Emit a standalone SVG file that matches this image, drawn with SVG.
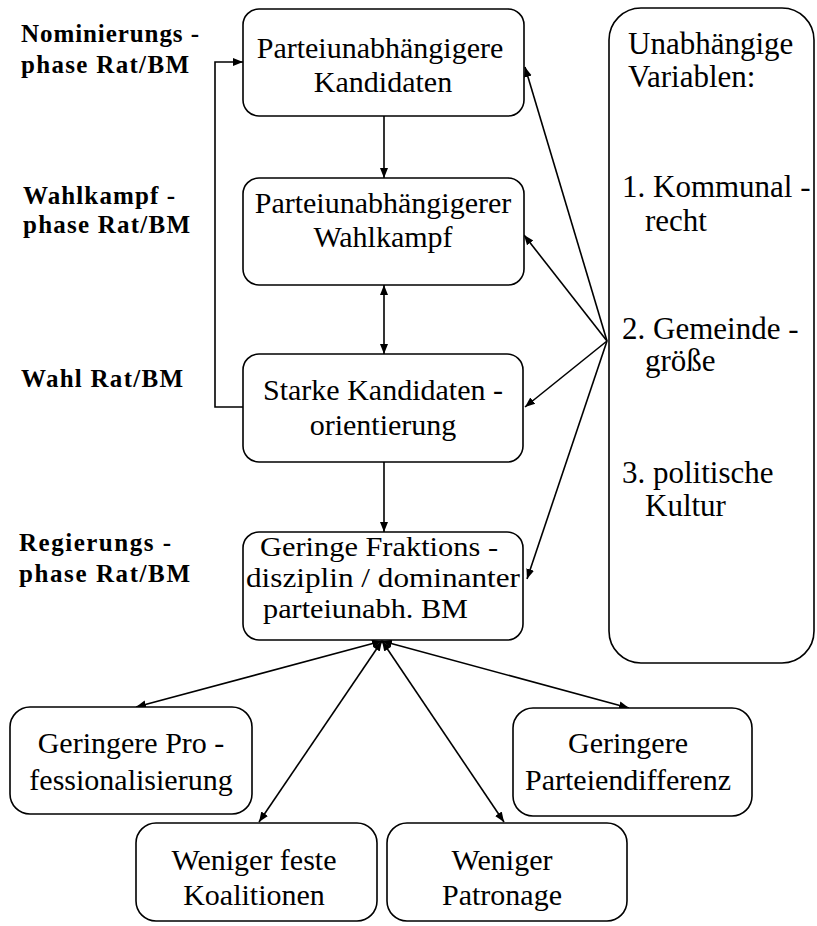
<svg xmlns="http://www.w3.org/2000/svg" width="817" height="926" viewBox="0 0 817 926">
<style>
.box{fill:#fff;stroke:#000;stroke-width:1.6}
.t{font-family:"Liberation Serif","Times New Roman",serif;font-size:30px;fill:#000;text-anchor:middle}
.t4{font-family:"Liberation Serif","Times New Roman",serif;font-size:27px;fill:#000}
.tl{font-family:"Liberation Serif","Times New Roman",serif;font-size:31px;fill:#000}
.lab{font-family:"Liberation Serif","Times New Roman",serif;font-size:25px;font-weight:bold;fill:#000}
.c{fill:none;stroke:#000;stroke-width:1.6}
</style>
<defs>
<marker id="ah" viewBox="0 0 10 10" refX="10" refY="5" markerWidth="10" markerHeight="10" markerUnits="userSpaceOnUse" orient="auto-start-reverse">
<path d="M0,1 L10,5 L0,9 Z" fill="#000"/>
</marker>
</defs>
<rect width="817" height="926" fill="#fff"/>

<g id="labels">
<text class="lab" x="21" y="42" textLength="178" lengthAdjust="spacing">Nominierungs -</text>
<text class="lab" x="21" y="73" textLength="168" lengthAdjust="spacing">phase  Rat/BM</text>
<text class="lab" x="23" y="204" textLength="152" lengthAdjust="spacing">Wahlkampf -</text>
<text class="lab" x="23" y="233" textLength="167" lengthAdjust="spacing">phase  Rat/BM</text>
<text class="lab" x="21" y="387" textLength="162" lengthAdjust="spacing">Wahl Rat/BM</text>
<text class="lab" x="19" y="551" textLength="152" lengthAdjust="spacing">Regierungs -</text>
<text class="lab" x="19" y="582" textLength="171" lengthAdjust="spacing">phase  Rat/BM</text>
</g>

<g id="connectors">
<line class="c" x1="384" y1="116" x2="384" y2="178" marker-end="url(#ah)"/>
<line class="c" x1="384" y1="285" x2="384" y2="354" marker-start="url(#ah)" marker-end="url(#ah)"/>
<line class="c" x1="384" y1="462" x2="384" y2="532" marker-end="url(#ah)"/>
<polyline class="c" points="243,407 215,407 215,62 243,62" marker-end="url(#ah)"/>
<line class="c" x1="607" y1="341" x2="525" y2="67" marker-end="url(#ah)"/>
<line class="c" x1="607" y1="341" x2="524" y2="235" marker-end="url(#ah)"/>
<line class="c" x1="607" y1="341" x2="525" y2="407" marker-end="url(#ah)"/>
<line class="c" x1="607" y1="341" x2="527" y2="579" marker-end="url(#ah)"/>
<line class="c" x1="382" y1="641" x2="136" y2="707" marker-start="url(#ah)" marker-end="url(#ah)"/>
<line class="c" x1="382" y1="641" x2="259" y2="822" marker-start="url(#ah)" marker-end="url(#ah)"/>
<line class="c" x1="382" y1="641" x2="504" y2="822" marker-start="url(#ah)" marker-end="url(#ah)"/>
<line class="c" x1="382" y1="641" x2="629" y2="708" marker-start="url(#ah)" marker-end="url(#ah)"/>
</g>

<g id="n1">
<rect class="box" x="243" y="9" width="281" height="107" rx="16"/>
<text class="t" x="380" y="58">Parteiunabhängigere</text>
<text class="t" x="383" y="92">Kandidaten</text>
</g>
<g id="n2">
<rect class="box" x="243" y="178" width="281" height="107" rx="16"/>
<text class="t" x="383" y="213">Parteiunabhängigerer</text>
<text class="t" x="383" y="247">Wahlkampf</text>
</g>
<g id="n3">
<rect class="box" x="243" y="354" width="280" height="108" rx="16"/>
<text class="t" x="383" y="400">Starke Kandidaten -</text>
<text class="t" x="383" y="435">orientierung</text>
</g>
<g id="n4">
<rect class="box" x="243" y="532" width="280" height="108" rx="16"/>
<text class="t4" x="260" y="556" textLength="238" lengthAdjust="spacingAndGlyphs">Geringe Fraktions  -</text>
<text class="t4" x="246" y="587" textLength="274" lengthAdjust="spacingAndGlyphs">disziplin  / dominanter</text>
<text class="t4" x="263" y="618" textLength="205" lengthAdjust="spacingAndGlyphs">parteiunabh. BM</text>
</g>
<g id="n5">
<rect class="box" x="609" y="8" width="205" height="655" rx="32"/>
<text class="tl" x="628" y="54">Unabhängige</text>
<text class="tl" x="628" y="87">Variablen:</text>
<text class="tl" x="622" y="197">1. Kommunal -</text>
<text class="tl" x="645" y="231">recht</text>
<text class="tl" x="622" y="339">2. Gemeinde -</text>
<text class="tl" x="645" y="371">größe</text>
<text class="tl" x="622" y="483">3. politische</text>
<text class="tl" x="645" y="516">Kultur</text>
</g>
<g id="n6">
<rect class="box" x="10" y="707" width="242" height="107" rx="20"/>
<text class="t" x="131" y="753">Geringere Pro -</text>
<text class="t" x="131" y="790">fessionalisierung</text>
</g>
<g id="n7">
<rect class="box" x="136" y="823" width="241" height="98" rx="20"/>
<text class="t" x="254" y="870">Weniger feste</text>
<text class="t" x="254" y="905">Koalitionen</text>
</g>
<g id="n8">
<rect class="box" x="387" y="823" width="240" height="98" rx="20"/>
<text class="t" x="502" y="870">Weniger</text>
<text class="t" x="502" y="905">Patronage</text>
</g>
<g id="n9">
<rect class="box" x="513" y="708" width="239" height="108" rx="20"/>
<text class="t" x="628" y="753">Geringere</text>
<text class="t" x="628" y="790">Parteiendifferenz</text>
</g>
</svg>
